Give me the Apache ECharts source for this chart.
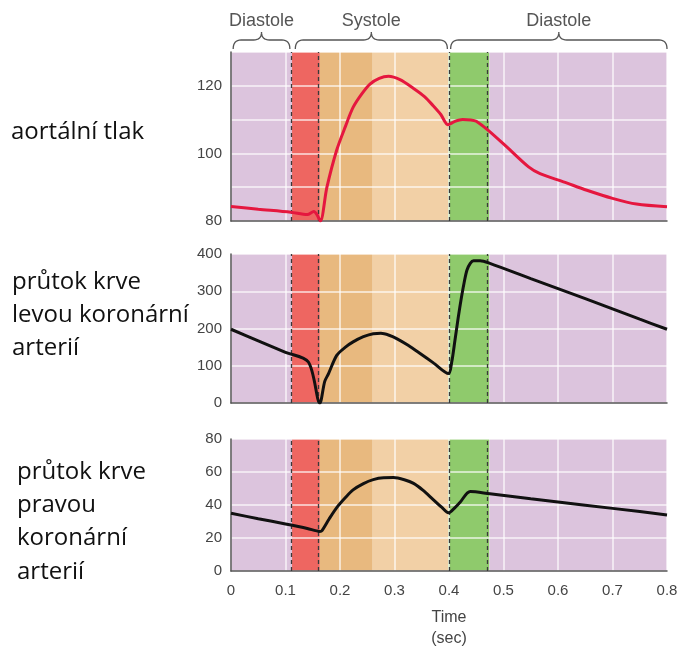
<!DOCTYPE html>
<html>
<head>
<meta charset="utf-8">
<script src="https://cdn.jsdelivr.net/npm/echarts@6/dist/echarts.min.js"></script>
<style>
  html, body { margin: 0; padding: 0; background: #fff; }
  #chart { width: 682px; height: 650px; }
</style>
</head>
<body>
<div id="chart"></div>
<script>
// Cardiac cycle phases (seconds)
const bandEdges = [0, 0.112, 0.163, 0.26, 0.399, 0.474, 0.8];
const bandColors = ['#dcc4dd', '#ee6661', '#e8b97f', '#f2d0a6', '#8fca6c', '#dcc4dd'];
const phaseLines = [0.112, 0.163, 0.399, 0.474];
const phaseNames = ['Diastole', 'Systole', 'Diastole'];
const phaseSpans = [[0.004, 0.108], [0.118, 0.397], [0.403, 0.8]];

// Aortic pressure (mmHg)
const aorticTime = [0, 0.05, 0.11, 0.14, 0.152, 0.158, 0.164, 0.176, 0.194, 0.21, 0.224, 0.24, 0.255, 0.272, 0.289, 0.31, 0.335, 0.355, 0.371, 0.385, 0.398, 0.41, 0.425, 0.44, 0.45, 0.472, 0.506, 0.546, 0.567, 0.61, 0.653, 0.7, 0.744, 0.8];
const aorticPressure = [84.3, 83.5, 82.6, 81.9, 82.8, 81.8, 80.0, 90, 101, 108, 113.6, 117.6, 120.5, 122.2, 122.8, 121.8, 119.2, 116.8, 114.1, 111.5, 108.5, 109.4, 110, 109.9, 109.5, 106.8, 101.9, 96, 94, 91.6, 89.1, 86.7, 85, 84.2];

// Left coronary blood flow (ml/min)
const leftTime = [0, 0.05, 0.1, 0.142, 0.163, 0.172, 0.179, 0.194, 0.21, 0.224, 0.243, 0.261, 0.275, 0.29, 0.304, 0.325, 0.347, 0.372, 0.399, 0.405, 0.411, 0.417, 0.423, 0.428, 0.433, 0.439, 0.445, 0.457, 0.475, 0.55, 0.65, 0.75, 0.8];
const leftFlow = [198, 167, 136, 110, 0, 58, 79, 128, 150, 164, 178, 186, 187, 182, 173, 155, 133, 107, 79, 110, 169, 230, 285, 325, 357, 375, 382, 382, 375, 334, 280, 225, 198];

// Right coronary blood flow (ml/min)
const rightTime = [0, 0.05, 0.1, 0.14, 0.163, 0.167, 0.18, 0.194, 0.21, 0.224, 0.243, 0.261, 0.28, 0.298, 0.318, 0.335, 0.352, 0.371, 0.387, 0.399, 0.405, 0.42, 0.439, 0.475, 0.55, 0.65, 0.75, 0.8];
const rightFlow = [35, 31.7, 28.5, 25.8, 24, 24.5, 31.5, 38.4, 44.5, 49.2, 53, 55.4, 56.5, 56.6, 55.3, 53.1, 49, 43.3, 38.5, 35.3, 36.5, 41.5, 48.2, 46.8, 43.8, 39.9, 36.0, 34];

// Panel axes
const yRanges = [[80, 130, 10], [0, 400, 100], [0, 80, 20]];
const xTicks = [0, 0.8, 0.1];

const panelLabels = [
  ['aortální tlak'],
  ['průtok krve', 'levou koronární', 'arterií'],
  ['průtok krve', 'pravou', 'koronární', 'arterií']
];

const grids = [
  { left: 231, top: 52, width: 436, height: 169 },
  { left: 231, top: 254, width: 436, height: 149 },
  { left: 231, top: 439, width: 436, height: 137 }
];

const axisColor = '#555';
const labelFont = 'Liberation Sans, Arial, sans-serif';
const gridLineStyle = { color: 'rgba(255,255,255,0.8)', width: 1.5 };

const chart = echarts.init(document.getElementById('chart'));

// axes sit above the coloured bands (markArea z = 1) so the grid lines show through
const xAxes = grids.map((g, i) => ({
  type: 'value', gridIndex: i, z: 2,
  min: xTicks[0], max: xTicks[1], interval: xTicks[2],
  axisLine: { show: true, lineStyle: { color: axisColor, width: 1.5 } },
  axisTick: { show: false },
  axisLabel: {
    show: i === 2, color: '#444', fontSize: 15, fontFamily: labelFont, margin: 12,
    formatter: v => (Math.round(v * 10) / 10).toString()
  },
  splitLine: { show: true, lineStyle: gridLineStyle },
  name: i === 2 ? 'Time\n(sec)' : '',
  nameLocation: 'middle', nameGap: 36,
  nameTextStyle: { color: '#444', fontSize: 16, fontFamily: labelFont, lineHeight: 21 }
}));

const yAxes = grids.map((g, i) => ({
  type: 'value', gridIndex: i, z: 2,
  min: yRanges[i][0], max: yRanges[i][1], interval: yRanges[i][2],
  axisLine: { show: true, lineStyle: { color: axisColor, width: 1.5 } },
  axisTick: { show: false },
  axisLabel: {
    color: '#444', fontSize: 15, fontFamily: labelFont, margin: 9,
    formatter: v => {
      if (i === 0) return (v % 20 === 0 && v < 130) ? String(v) : '';
      return String(v);
    }
  },
  splitLine: { show: true, lineStyle: gridLineStyle }
}));

const bandData = bandColors.map((c, k) => [
  { xAxis: bandEdges[k], itemStyle: { color: c } },
  { xAxis: bandEdges[k + 1] }
]);

const series = [];
const curves = [
  { t: aorticTime, v: aorticPressure, color: '#e5173f' },
  { t: leftTime, v: leftFlow, color: '#111' },
  { t: rightTime, v: rightFlow, color: '#111' }
];

grids.forEach((g, i) => {
  // coloured phase bands
  series.push({
    type: 'line', xAxisIndex: i, yAxisIndex: i, silent: true,
    data: [], symbol: 'none',
    markArea: { silent: true, z: 1, data: bandData, itemStyle: { opacity: 1 } }
  });
  // dashed phase boundaries
  series.push({
    type: 'line', xAxisIndex: i, yAxisIndex: i, silent: true,
    data: [], symbol: 'none',
    markLine: {
      silent: true, z: 3, symbol: 'none', label: { show: false },
      lineStyle: { color: '#3a3a3a', width: 1.3, type: [4, 3] },
      data: phaseLines.map(x => ({ xAxis: x }))
    }
  });
  // measured curve
  const c = curves[i];
  series.push({
    type: 'line', xAxisIndex: i, yAxisIndex: i, z: 6,
    data: c.t.map((t, k) => [t, c.v[k]]),
    symbol: 'none', smooth: 0.3,
    lineStyle: { color: c.color, width: 3 }
  });
});

chart.setOption({
  animation: false,
  grid: grids,
  xAxis: xAxes,
  yAxis: yAxes,
  series: series
});

// Curly brace outline as a point list (quadratic corners)
function quad(p0, c, p1, n) {
  const pts = [];
  for (let s = 1; s <= n; s++) {
    const u = s / n;
    pts.push([
      (1 - u) * (1 - u) * p0[0] + 2 * (1 - u) * u * c[0] + u * u * p1[0],
      (1 - u) * (1 - u) * p0[1] + 2 * (1 - u) * u * c[1] + u * u * p1[1]
    ]);
  }
  return pts;
}
function bracePoints(x0, x1, xm, yb, ym, yt, r) {
  let pts = [[x0, yb]];
  pts = pts.concat(quad([x0, yb], [x0, ym], [x0 + r, ym], 8));
  pts.push([xm - r, ym]);
  pts = pts.concat(quad([xm - r, ym], [xm, ym], [xm, yt], 8));
  pts = pts.concat(quad([xm, yt], [xm, ym], [xm + r, ym], 8));
  pts.push([x1 - r, ym]);
  pts = pts.concat(quad([x1 - r, ym], [x1, ym], [x1, yb], 8));
  return pts;
}

const graphics = [];
phaseSpans.forEach((span, k) => {
  const x0 = chart.convertToPixel({ xAxisIndex: 0 }, span[0]);
  const x1 = chart.convertToPixel({ xAxisIndex: 0 }, span[1]);
  const xm = (x0 + x1) / 2;
  graphics.push({
    type: 'polyline', silent: true,
    shape: { points: bracePoints(x0, x1, xm, 49, 40, 32, 8) },
    style: { fill: null, stroke: '#555', lineWidth: 1.3 }
  });
  graphics.push({
    type: 'text', silent: true, x: xm, y: 21,
    style: { text: phaseNames[k], fill: '#555', font: '18px Liberation Sans, Arial, sans-serif', textAlign: 'center', textVerticalAlign: 'middle' }
  });
});

const labelStarts = [[11, 132], [12, 282], [17, 472]];
const lineGap = 33.3;
panelLabels.forEach((lines, i) => {
  lines.forEach((txt, j) => {
    graphics.push({
      type: 'text', silent: true,
      x: labelStarts[i][0], y: labelStarts[i][1] + j * lineGap,
      style: { text: txt, fill: '#111', font: '24px Open Sans, Noto Sans, sans-serif', textAlign: 'left', textVerticalAlign: 'middle' }
    });
  });
});

chart.setOption({ graphic: graphics });
</script>
</body>
</html>
